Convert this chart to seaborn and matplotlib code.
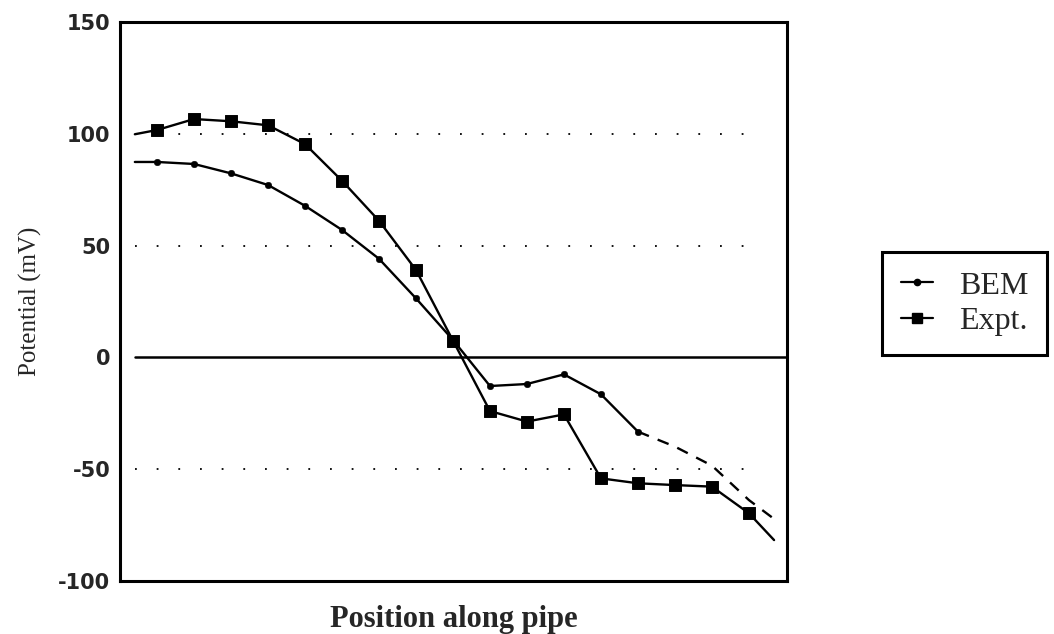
import numpy as np
import pandas as pd
import matplotlib
matplotlib.use("Agg")
import matplotlib.pyplot as plt
from matplotlib.lines import Line2D
import seaborn as sns

# measured positions (index along pipe) and potentials (mV)
positions = np.arange(17)
bem_values = [87.4, 86.5, 82.3, 77.1, 67.8, 57.0, 44.1, 26.4, 7.8,
              -12.8, -11.9, -7.6, -16.5, -33.2]
expt_values = [101.7, 106.6, 105.6, 103.8, 95.4, 79.0, 61.1, 39.1, 7.5,
               -24.0, -28.7, -25.5, -54.1, -56.3, -57.1, -57.8, -69.7]
# line ends (no marker)
start_pos = -0.6
bem_start = 87.4
expt_start = 99.8
expt_end_pos = 16.68
expt_end = -81.7
# dashed extrapolation of BEM
bem_dash_pos = [13, 14, 15, 16, 16.62]
bem_dash_values = [-33.2, -39.9, -48.4, -63.8, -71.5]
grid_levels = [100, 50, -50]
y_ticks = [150, 100, 50, 0, -50, -100]

sns.set_style("white")

bem_df = pd.DataFrame({"pos": positions[:len(bem_values)], "mV": bem_values})
expt_df = pd.DataFrame({"pos": positions, "mV": expt_values})
bem_line = pd.concat([pd.DataFrame({"pos": [start_pos], "mV": [bem_start]}), bem_df],
                     ignore_index=True)
expt_line = pd.concat([pd.DataFrame({"pos": [start_pos], "mV": [expt_start]}), expt_df,
                       pd.DataFrame({"pos": [expt_end_pos], "mV": [expt_end]})],
                      ignore_index=True)
dash_df = pd.DataFrame({"pos": bem_dash_pos, "mV": bem_dash_values})

fig = plt.figure(figsize=(10.54, 6.34), dpi=100)
ax = fig.add_axes([0.1139, 0.0836, 0.6328, 0.8817])

# reference lines
for lv in grid_levels:
    ax.plot([start_pos, 16.2], [lv, lv], color="black", lw=1.3,
            linestyle=(0, (1, 11)), zorder=1)
ax.plot([start_pos, 17.03], [0, 0], color="black", lw=1.8, zorder=1)

sns.lineplot(data=bem_line, x="pos", y="mV", ax=ax, color="black", lw=1.7,
             sort=False, estimator=None)
sns.lineplot(data=expt_line, x="pos", y="mV", ax=ax, color="black", lw=1.7,
             sort=False, estimator=None)
ax.plot(dash_df["pos"], dash_df["mV"], color="black", lw=1.7,
        linestyle=(0, (5, 4)))
sns.scatterplot(data=bem_df, x="pos", y="mV", ax=ax, color="black", marker="o",
                s=22, edgecolor="black", zorder=3)
sns.scatterplot(data=expt_df, x="pos", y="mV", ax=ax, color="black", marker="s",
                s=70, edgecolor="black", zorder=3)

ax.set_xlim(-1.0, 17.03)
ax.set_ylim(-100, 150)
ax.set_xticks([])
ax.set_yticks(y_ticks)
ax.set_yticklabels([str(t) for t in y_ticks], fontsize=15, fontweight="bold",
                   family="DejaVu Sans")
ax.tick_params(axis="y", length=0, pad=7)
for sp in ax.spines.values():
    sp.set_linewidth(2.2)
    sp.set_color("black")

ax.set_xlabel("Position along pipe", family="Liberation Serif", fontsize=22,
              fontweight="bold", labelpad=17)
ax.set_ylabel("Potential (mV)", family="Liberation Serif", fontsize=18,
              labelpad=12)

handles = [
    Line2D([], [], color="black", lw=1.6, marker="o", markersize=4.5),
    Line2D([], [], color="black", lw=1.6, marker="s", markersize=7),
]
leg = fig.legend(handles, ["BEM", "Expt."], loc="upper left",
                 bbox_to_anchor=(0.8368, 0.6025), frameon=True, fancybox=False,
                 edgecolor="black", framealpha=1, handlelength=1.0,
                 handletextpad=0.8, borderpad=0.6, labelspacing=0.2,
                 borderaxespad=0,
                 prop={"family": "Liberation Serif", "size": 23})
leg.get_frame().set_linewidth(2.2)

fig.savefig("out.png", dpi=100)
